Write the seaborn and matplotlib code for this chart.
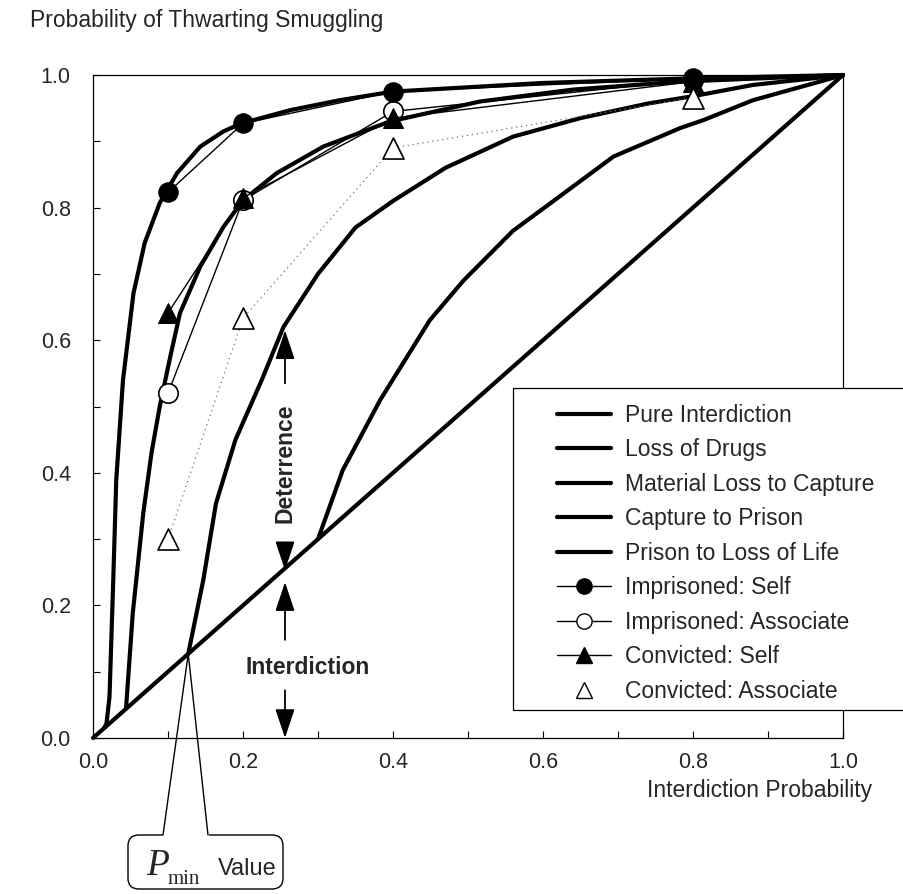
import matplotlib
matplotlib.use("Agg")
import matplotlib.pyplot as plt
import seaborn as sns
from matplotlib.lines import Line2D
from matplotlib.patches import FancyBboxPatch, Rectangle, ConnectionPatch

# ---------------- data ----------------
pure_x = [0.0, 1.0]
pure_y = [0.0, 1.0]

drugs_x = [0.30, 0.333, 0.383, 0.449, 0.494, 0.56, 0.614, 0.694, 0.783, 0.814, 0.88, 0.969, 1.0]
drugs_y = [0.30, 0.404, 0.51, 0.63, 0.69, 0.765, 0.81, 0.877, 0.92, 0.932, 0.962, 0.99, 1.0]

material_x = [0.127, 0.147, 0.164, 0.19, 0.225, 0.254, 0.30, 0.35, 0.40, 0.47, 0.56, 0.65, 0.74, 0.80, 0.88, 1.0]
material_y = [0.127, 0.238, 0.354, 0.45, 0.54, 0.62, 0.70, 0.77, 0.81, 0.86, 0.907, 0.935, 0.957, 0.968, 0.985, 1.0]

capture_x = [0.044, 0.053, 0.067, 0.078, 0.089, 0.103, 0.116, 0.143, 0.174, 0.20, 0.245, 0.307, 0.396, 0.516, 0.64, 0.783, 1.0]
capture_y = [0.044, 0.188, 0.339, 0.43, 0.50, 0.575, 0.641, 0.711, 0.771, 0.811, 0.852, 0.892, 0.93, 0.96, 0.978, 0.99, 1.0]

prison_x = [0.015, 0.018, 0.022, 0.027, 0.031, 0.040, 0.054, 0.069, 0.089, 0.112, 0.143, 0.174, 0.198, 0.263, 0.329, 0.40, 0.6, 0.8, 1.0]
prison_y = [0.015, 0.022, 0.062, 0.238, 0.389, 0.54, 0.671, 0.747, 0.807, 0.852, 0.892, 0.915, 0.927, 0.947, 0.962, 0.975, 0.988, 0.995, 1.0]

point_x = [0.1, 0.2, 0.4, 0.8]
imp_self_y = [0.823, 0.927, 0.975, 0.995]
imp_assoc_y = [0.52, 0.811, 0.945, 0.993]
conv_self_y = [0.641, 0.815, 0.935, 0.99]
conv_assoc_y = [0.30, 0.633, 0.89, 0.966]

p_min = 0.127
arrow_x = 0.256
deter_top, deter_bottom = 0.615, 0.253
interd_top = 0.235

major_ticks = [0.0, 0.2, 0.4, 0.6, 0.8, 1.0]
minor_ticks = [0.1, 0.3, 0.5, 0.7, 0.9]
tick_labels = ["0.0", "0.2", "0.4", "0.6", "0.8", "1.0"]

line_labels = ["Pure Interdiction", "Loss of Drugs", "Material Loss to Capture",
               "Capture to Prison", "Prison to Loss of Life"]
point_labels = ["Imprisoned: Self", "Imprisoned: Associate", "Convicted: Self",
                "Convicted: Associate"]

# ---------------- style ----------------
sns.set_style("ticks")
plt.rcParams["font.family"] = ["Liberation Sans", "DejaVu Sans"]

W, H = 904, 894
fig = plt.figure(figsize=(W / 100, H / 100), dpi=100)
fig.patch.set_facecolor("white")

def fx(px):
    return px / W

def fy(py):
    return 1 - py / H

ax_l, ax_r, ax_t, ax_b = 93, 843, 75, 738
ax = fig.add_axes([fx(ax_l), fy(ax_b), (ax_r - ax_l) / W, (ax_b - ax_t) / H])

LW = 3.0
for xs, ys in [(pure_x, pure_y), (drugs_x, drugs_y), (material_x, material_y),
               (capture_x, capture_y), (prison_x, prison_y)]:
    sns.lineplot(x=xs, y=ys, ax=ax, color="black", linewidth=LW, sort=False,
                 estimator=None, clip_on=False, zorder=3, solid_joinstyle="round")

# convicted associate dotted connector
sns.lineplot(x=point_x, y=conv_assoc_y, ax=ax, color="0.45", linewidth=0.9,
             linestyle=(0, (1, 3)), sort=False, estimator=None, clip_on=False, zorder=4)

sns.lineplot(x=point_x, y=imp_assoc_y, ax=ax, color="black", linewidth=1.0,
             marker="o", markersize=14, markerfacecolor="white", markeredgecolor="black",
             markeredgewidth=1.2, sort=False, estimator=None, clip_on=False, zorder=5)
sns.lineplot(x=point_x, y=conv_self_y, ax=ax, color="black", linewidth=1.0,
             marker="^", markersize=15, markerfacecolor="black", markeredgecolor="black",
             sort=False, estimator=None, clip_on=False, zorder=6)
sns.lineplot(x=point_x, y=imp_self_y, ax=ax, color="black", linewidth=1.0,
             marker="o", markersize=14, markerfacecolor="black", markeredgecolor="black",
             sort=False, estimator=None, clip_on=False, zorder=7)
sns.scatterplot(x=point_x, y=conv_assoc_y, ax=ax, marker="^", s=230,
                facecolor="white", edgecolor="black", linewidth=1.2, clip_on=False, zorder=8)

ax.set_xlim(0, 1)
ax.set_ylim(0, 1)
ax.set_xticks(major_ticks)
ax.set_xticklabels(tick_labels)
ax.set_yticks(major_ticks)
ax.set_yticklabels(tick_labels)
ax.set_xticks(minor_ticks, minor=True)
ax.set_yticks(minor_ticks, minor=True)
ax.tick_params(which="both", direction="in", length=5, width=0.8, color="black")
ax.tick_params(axis="x", which="major", labelsize=15.5, pad=10)
ax.tick_params(axis="y", which="major", labelsize=15.5, pad=16)
for sp in ax.spines.values():
    sp.set_visible(True)
    sp.set_linewidth(0.9)
    sp.set_color("black")
ax.set_xlabel("")
ax.set_ylabel("")

# annotations inside plot
ax.text(arrow_x, 0.415, "Deterrence", rotation=90, ha="center", va="center",
        fontweight="bold", fontsize=16.5)
ax.text(0.204, 0.107, "Interdiction", ha="left", va="center",
        fontweight="bold", fontsize=16.5)
astyle = "-|>,head_length=0.9,head_width=0.3"
for y0, y1 in [(0.535, deter_top), (0.291, deter_bottom), (0.148, interd_top), (0.072, 0.0)]:
    ax.annotate("", xy=(arrow_x, y1), xytext=(arrow_x, y0),
                arrowprops=dict(arrowstyle=astyle, mutation_scale=20, lw=1.3,
                                color="black", shrinkA=0, shrinkB=0),
                annotation_clip=False, zorder=9)

# titles
fig.text(fx(30), fy(20), "Probability of Thwarting Smuggling", fontsize=16.5,
         ha="left", va="center")
fig.text(fx(872), fy(790), "Interdiction Probability", fontsize=16.5,
         ha="right", va="center")

# legend box + legend
rect = Rectangle((fx(513), fy(710)), (915 - 513) / W, (710 - 388) / H,
                 transform=fig.transFigure, facecolor="white", edgecolor="black",
                 linewidth=0.9, zorder=4)
fig.add_artist(rect)
handles = [Line2D([], [], color="black", linewidth=LW) for _ in line_labels]
handles += [
    Line2D([], [], color="black", linewidth=1.0, marker="o", markersize=11,
           markerfacecolor="black"),
    Line2D([], [], color="black", linewidth=1.0, marker="o", markersize=11,
           markerfacecolor="white"),
    Line2D([], [], color="black", linewidth=1.0, marker="^", markersize=12,
           markerfacecolor="black"),
    Line2D([], [], color="black", linestyle="none", marker="^", markersize=12,
           markerfacecolor="white"),
]
leg = fig.legend(handles, line_labels + point_labels, loc="upper left",
                 bbox_to_anchor=(fx(557), fy(404)), bbox_transform=fig.transFigure,
                 frameon=False, fontsize=16.5, handlelength=2.35, handletextpad=0.6,
                 labelspacing=0.5, borderpad=0, borderaxespad=0)
leg.set_zorder(6)

# Pmin callout
box = FancyBboxPatch((fx(128), fy(889)), (283 - 128) / W, (889 - 835) / H,
                     boxstyle="round,pad=0,rounding_size=0.012",
                     transform=fig.transFigure, facecolor="white", edgecolor="black",
                     linewidth=1.0, zorder=4)
fig.add_artist(box)
cover = Line2D([fx(164), fx(207)], [fy(835), fy(835)], color="white", linewidth=2.5,
               transform=fig.transFigure, zorder=5)
fig.add_artist(cover)
for bx in (163, 208):
    cp = ConnectionPatch(xyA=(p_min, p_min), coordsA=ax.transData,
                         xyB=(fx(bx), fy(835)), coordsB=fig.transFigure,
                         color="black", linewidth=1.0, zorder=6)
    fig.add_artist(cp)
fig.text(fx(146), fy(875), "P", family="Liberation Serif", style="italic",
         fontsize=27, ha="left", va="baseline", zorder=7)
fig.text(fx(168), fy(884), "min", family="Liberation Serif", fontsize=15,
         ha="left", va="baseline", zorder=7)
fig.text(fx(218), fy(875), "Value", fontsize=17, ha="left", va="baseline", zorder=7)

fig.savefig("out.png", dpi=100, facecolor="white")
